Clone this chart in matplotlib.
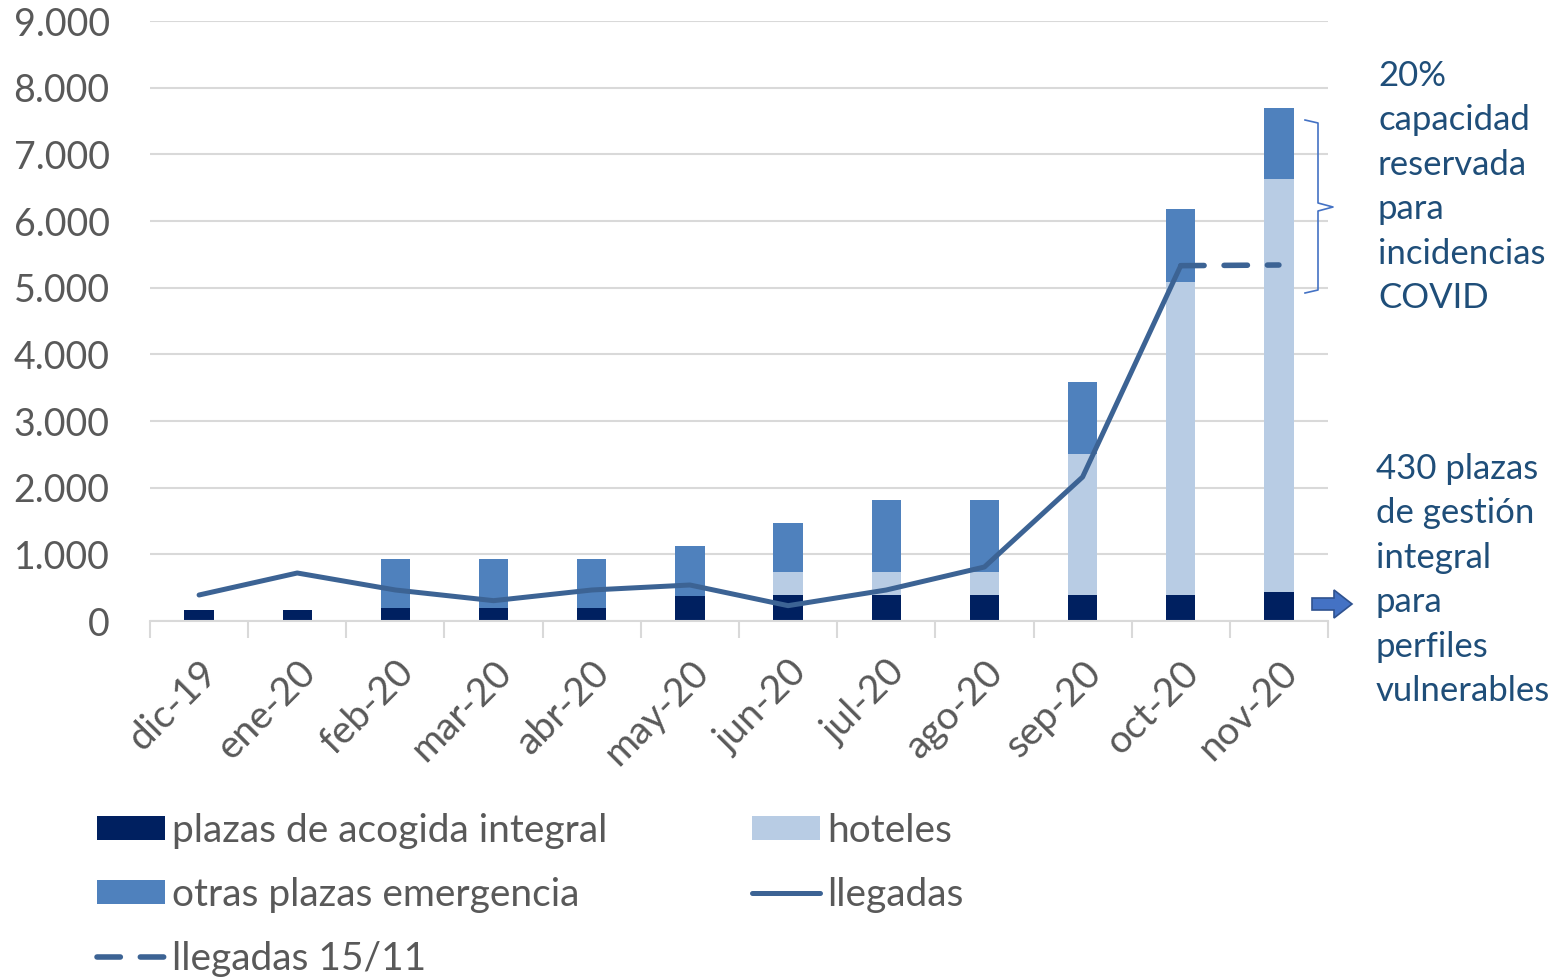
import matplotlib
matplotlib.use("Agg")
import matplotlib.pyplot as plt
import numpy as np
from matplotlib.patches import FancyArrow
from matplotlib.lines import Line2D

plt.rcParams["font.family"] = ["Lato", "DejaVu Sans"]

meses = ["dic-19", "ene-20", "feb-20", "mar-20", "abr-20", "may-20",
         "jun-20", "jul-20", "ago-20", "sep-20", "oct-20", "nov-20"]
acogida = [170, 170, 200, 200, 200, 375, 385, 390, 390, 390, 390, 430]
hoteles = [0, 0, 0, 0, 0, 0, 350, 345, 345, 2115, 4700, 6200]
otras = [0, 0, 730, 730, 730, 750, 735, 1080, 1080, 1080, 1090, 1070]
llegadas = [390, 720, 465, 305, 465, 540, 230, 465, 810, 2160, 5330]
llegadas_1511 = [5330, 5340]  # oct-20 -> nov-20

c_dark = "#002060"
c_light = "#b8cce4"
c_mid = "#4f81bd"
c_line = "#3c6394"
c_txt = "#595959"
c_ann = "#1f4e79"

fig = plt.figure(figsize=(15.55, 9.8), dpi=100)
ax = fig.add_axes([150 / 1555, 1 - 621 / 980, 1178 / 1555, 600 / 980])

x = np.arange(len(meses))
w = 0.3
b1 = ax.bar(x, acogida, w, color=c_dark, zorder=2)
b2 = ax.bar(x, hoteles, w, bottom=acogida, color=c_light, zorder=2)
base = np.array(acogida) + np.array(hoteles)
b3 = ax.bar(x, otras, w, bottom=base, color=c_mid, zorder=2)
l1, = ax.plot(x[:len(llegadas)], llegadas, color=c_line, lw=3.6, zorder=3,
              solid_capstyle="round", solid_joinstyle="round")
l2, = ax.plot(x[10:12], llegadas_1511, color=c_line, lw=4, ls=(0, (4.2, 3.6)),
              dash_capstyle="round", zorder=3)

ax.set_xlim(-0.5, len(meses) - 0.5)
ax.set_ylim(0, 9000)
ax.set_yticks(np.arange(0, 9001, 1000))
ax.set_yticklabels([f"{v:,}".replace(",", ".") for v in range(0, 9001, 1000)])
ax.yaxis.grid(True, color="#d9d9d9", lw=1.5, zorder=0)
ax.tick_params(axis="y", length=0, labelsize=27, labelcolor=c_txt, pad=29)
for s in ["top", "right", "left"]:
    ax.spines[s].set_visible(False)
ax.spines["bottom"].set_color("#d9d9d9")
ax.spines["bottom"].set_linewidth(1.5)

ax.set_xticks(x)
ax.set_xticklabels(meses, rotation=45, ha="right", rotation_mode="anchor")
ax.tick_params(axis="x", length=0, labelsize=28, labelcolor=c_txt, pad=24)
ax.set_xticks(np.arange(-0.5, len(meses)), minor=True)
ax.tick_params(axis="x", which="minor", length=12, color="#d9d9d9", width=1.5)

# anotaciones
ann = dict(fontsize=25, color=c_ann, va="top", ha="left", linespacing=1.48,
           transform=fig.transFigure)
fig.text(1378 / 1555, 1 - 60 / 980,
         "20%\ncapacidad\nreservada\npara\nincidencias\nCOVID", **ann)
fig.text(1376 / 1555, 1 - 453 / 980,
         "430 plazas\nde gestión\nintegral\npara\nperfiles\nvulnerables", **ann)

# llave
xs = [1305, 1318, 1318, 1333, 1318, 1318, 1305]
ys = [120, 123, 203, 207, 211, 290, 293]
fig.add_artist(Line2D([v / 1555 for v in xs], [1 - v / 980 for v in ys],
                      color="#4472c4", lw=1.2, transform=fig.transFigure))

# flecha
fig.add_artist(FancyArrow(1312 / 1555, 1 - 604 / 980, 22 / 1555, 0,
                          width=12 / 980, head_width=28 / 980,
                          head_length=18 / 1555, length_includes_head=False,
                          transform=fig.transFigure, facecolor="#4472c4",
                          edgecolor="#2f528f", lw=1.2))

fig.legend([b1, b3, l2, b2, l1],
           ["plazas de acogida integral", "otras plazas emergencia",
            "llegadas 15/11", "hoteles", "llegadas"],
           ncol=2, loc="upper left", bbox_to_anchor=(81 / 1555, 1 - 797 / 980),
           frameon=False, fontsize=28, labelcolor=c_txt, handlelength=1.75,
           handleheight=0.55, handletextpad=0.2, columnspacing=3.7,
           labelspacing=0.72, borderaxespad=0)

fig.savefig("out.png", dpi=100)
